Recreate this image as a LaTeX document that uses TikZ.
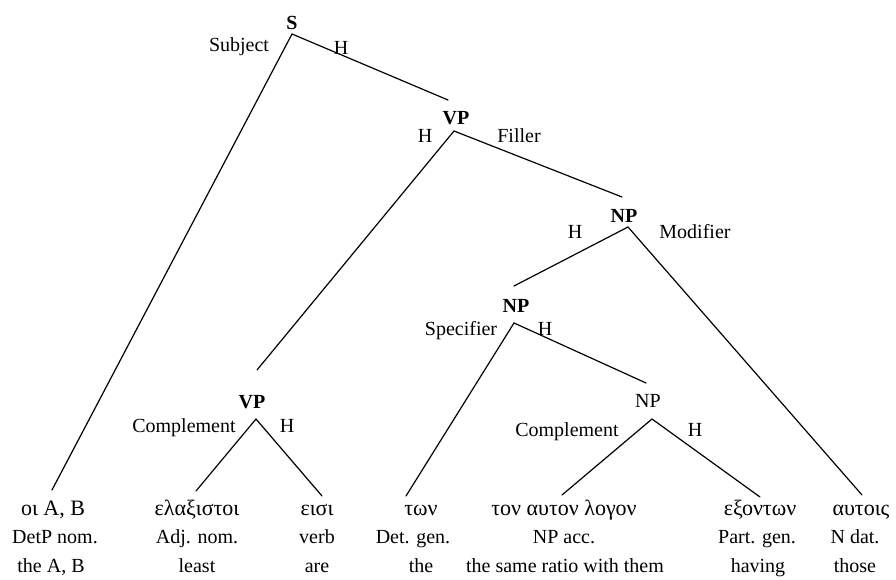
\documentclass[tikz,border=0pt]{standalone}
\usepackage{fontspec}
\setmainfont{Liberation Serif}
\begin{document}
\begin{tikzpicture}[x=1pt,y=-1pt,
  every node/.style={inner sep=0pt, outer sep=0pt, anchor=base,
    font=\fontsize{20}{24}\selectfont},
  cat/.style={font=\fontsize{20}{24}\selectfont\bfseries},
  greek/.style={font=\fontsize{22}{26}\selectfont},
  branch/.style={line width=1.2pt, line cap=round},
]
\useasboundingbox (0,0) rectangle (896,580);

% phrase categories
\node[cat] (s)   at (292,30)  {S};
\node[cat] (vp1) at (456,125) {VP};
\node[cat] (vp2) at (252,408) {VP};
\node[cat] (np1) at (624,222) {NP};
\node[cat] (np2) at (516,312) {NP};
\node      (np3) at (648,407) {NP};

% function labels
\node (l-subj) at (239,52)  {Subject};
\node (l-sh)   at (341,55)  {H};
\node (l-vh)   at (425,143) {H};
\node (l-fill) at (519,143) {Filler};
\node (l-comp1) at (184,432) {Complement};
\node (l-vh2)  at (287,432) {H};
\node (l-nh)   at (575,238) {H};
\node (l-mod)  at (695,238) {Modifier};
\node (l-spec) at (461,335) {Specifier};
\node (l-nh2)  at (545,335) {H};
\node (l-comp2) at (567,436) {Complement};
\node (l-nh3)  at (695,436) {H};

% apexes under each category and tops of the branches reaching them
\coordinate (s-apex)   at (292,34);
\coordinate (vp1-top)  at (448,100);
\coordinate (vp1-apex) at (454,131);
\coordinate (vp2-top)  at (257,370);
\coordinate (vp2-apex) at (256,419);
\coordinate (np1-top)  at (622,197);
\coordinate (np1-apex) at (628,227);
\coordinate (np2-top)  at (514,286);
\coordinate (np2-apex) at (514,323);
\coordinate (np3-top)  at (646,383);
\coordinate (np3-apex) at (652,419);

% leaves: Greek word, grammatical category, English
\node[greek] (w1) at (53,515)  {οι A, B};
\node[greek] (w2) at (197,515) {ελαξιστοι};
\node[greek] (w3) at (317,515) {εισι};
\node[greek] (w4) at (421,515) {των};
\node[greek] (w5) at (564,515) {τον αυτον λογον};
\node[greek] (w6) at (760,515) {εξοντων};
\node[greek] (w7) at (861,515) {αυτοις};

\node (g1) at (55,543)  {DetP nom.};
\node (g2) at (197,543) {Adj. nom.};
\node (g3) at (317,543) {verb};
\node (g4) at (413,543) {Det. gen.};
\node (g5) at (564,543) {NP acc.};
\node (g6) at (757,543) {Part. gen.};
\node (g7) at (855,543) {N dat.};

\node (e1) at (51,572)  {the A, B};
\node (e2) at (197,572) {least};
\node (e3) at (317,572) {are};
\node (e4) at (421,572) {the};
\node (e5) at (565,572) {the same ratio with them};
\node (e6) at (758,572) {having};
\node (e7) at (855,572) {those};

% branch ends above the leaves
\coordinate (w1-top) at (52,490);
\coordinate (w2-top) at (196,491);
\coordinate (w3-top) at (322,496);
\coordinate (w4-top) at (406,496);
\coordinate (w5-top) at (562,495);
\coordinate (w6-top) at (760,497);
\coordinate (w7-top) at (862,495);

% branches
\draw[branch] (s-apex) -- (w1-top);
\draw[branch] (s-apex) -- (vp1-top);
\draw[branch] (vp1-apex) -- (vp2-top);
\draw[branch] (vp1-apex) -- (np1-top);
\draw[branch] (vp2-apex) -- (w2-top);
\draw[branch] (vp2-apex) -- (w3-top);
\draw[branch] (np1-apex) -- (np2-top);
\draw[branch] (np1-apex) -- (w7-top);
\draw[branch] (np2-apex) -- (w4-top);
\draw[branch] (np2-apex) -- (np3-top);
\draw[branch] (np3-apex) -- (w5-top);
\draw[branch] (np3-apex) -- (w6-top);
\end{tikzpicture}
\end{document}
